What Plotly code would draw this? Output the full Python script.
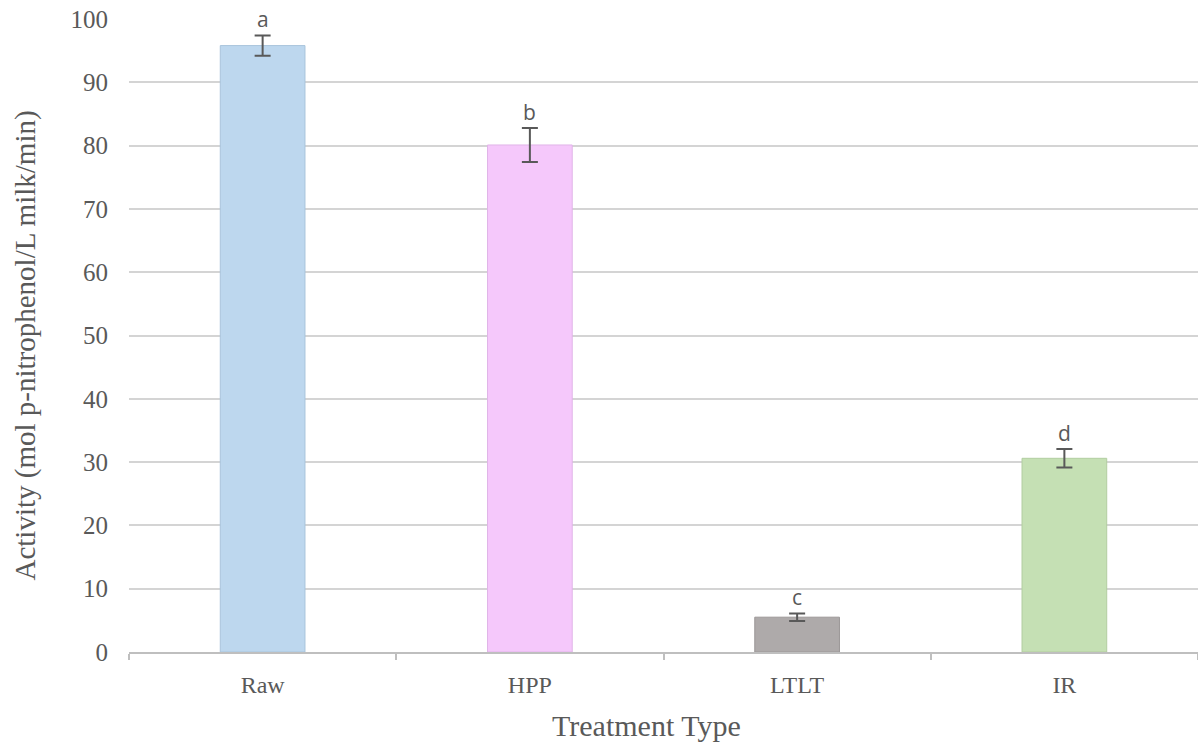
import plotly.graph_objects as go

categories = ["Raw", "HPP", "LTLT", "IR"]
activity = [95.8, 80.1, 5.5, 30.6]
errors = [1.6, 2.7, 0.6, 1.45]
letters = ["a", "b", "c", "d"]
bar_colors = ["#BDD7EE", "#F5C8FB", "#AEAAAA", "#C5E0B4"]
bar_edges = ["#A9C4DC", "#E0B4E8", "#9C9898", "#B2CDA1"]
y_ticks = [0, 10, 20, 30, 40, 50, 60, 70, 80, 90, 100]
x_title = "Treatment Type"
y_title = "Activity (mol p-nitrophenol/L milk/min)"

fig = go.Figure()
fig.add_trace(go.Bar(
    x=categories, y=activity,
    marker=dict(color=bar_colors, line=dict(color=bar_edges, width=1)),
    error_y=dict(type="data", array=errors, visible=True,
                 color="#595959", thickness=2, width=8),
    showlegend=False,
))

for c, v, e, t in zip(categories, activity, errors, letters):
    fig.add_annotation(x=c, y=v + e, text=t, showarrow=False,
                       yanchor="bottom", yshift=0,
                       font=dict(family="Open Sans", size=21, color="#595959"))

fig.add_annotation(xref="paper", yref="paper", x=0.5, y=0, text=x_title,
                   showarrow=False, xanchor="center", yanchor="middle",
                   xshift=-17, yshift=-73,
                   font=dict(family="Liberation Serif", size=30, color="#595959"))
fig.add_annotation(xref="paper", yref="paper", x=0, y=0.5, text=y_title,
                   showarrow=False, xanchor="center", yanchor="middle", textangle=-90,
                   xshift=-104, yshift=-10,
                   font=dict(family="Liberation Serif", size=29, color="#595959"))

fig.update_layout(
    width=1198, height=746,
    margin=dict(l=129, r=0, t=19, b=94),
    plot_bgcolor="white", paper_bgcolor="white",
    bargap=0.683,
    font=dict(family="Liberation Serif", color="#595959"),
)
fig.update_xaxes(
    automargin=False,
    showline=True, linecolor="#BFBFBF", linewidth=2,
    ticks="outside", tickson="boundaries", ticklen=6, tickcolor="#BFBFBF", tickwidth=2,
    tickfont=dict(family="Liberation Serif", size=24, color="#595959"),
    ticklabelstandoff=10,
    showgrid=False,
)
fig.update_yaxes(
    automargin=False,
    range=[0, 100], tickvals=y_ticks,
    showgrid=True, gridcolor="#D4D4D4", gridwidth=2,
    zeroline=False, showline=False, ticks="",
    tickfont=dict(family="Liberation Serif", size=25, color="#595959"),
    ticklabelstandoff=20, ticklabeloverflow="allow",
)

fig.write_html(
    "out.html",
    config={"displayModeBar": False},
    post_script="document.body.style.margin='0';document.body.style.padding='0';document.body.style.overflow='hidden';",
)
